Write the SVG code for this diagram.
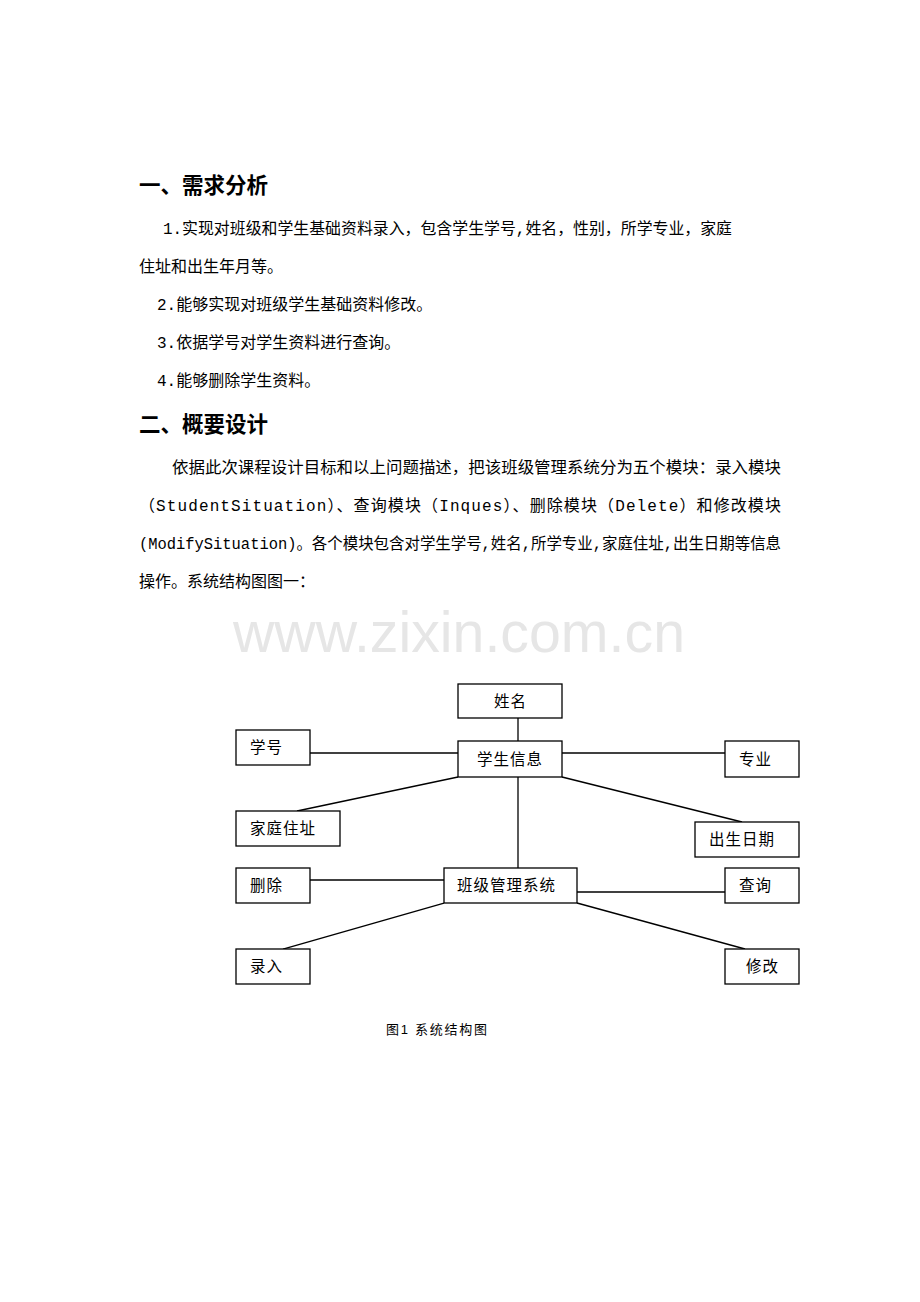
<svg xmlns="http://www.w3.org/2000/svg" width="920" height="1302" viewBox="0 0 920 1302">
<style>
.h{font-family:"Noto Sans CJK SC","Liberation Sans",sans-serif;font-size:21.5px;font-weight:bold;fill:#000}
.b{font-family:"Liberation Mono","Noto Sans CJK SC",monospace;font-size:16px;fill:#000}
.n{fill:#fff;stroke:#000;stroke-width:1.3}
.t{font-family:"Noto Sans CJK SC","Liberation Sans",sans-serif;font-size:15.5px;fill:#000;letter-spacing:1px}
.c{stroke:#000;stroke-width:1.3;fill:none}
.cap{font-family:"Liberation Sans","Noto Sans CJK SC",sans-serif;font-size:13px;fill:#000}
</style>
<rect width="920" height="1302" fill="#fff"/>
<text class="h" x="139" y="193">一、需求分析</text>
<text class="b" x="163" y="234" textLength="569" lengthAdjust="spacingAndGlyphs">1.实现对班级和学生基础资料录入，包含学生学号,姓名，性别，所学专业，家庭</text>
<text class="b" x="139" y="272">住址和出生年月等。</text>
<text class="b" x="157" y="310">2.能够实现对班级学生基础资料修改。</text>
<text class="b" x="157" y="348">3.依据学号对学生资料进行查询。</text>
<text class="b" x="157" y="386">4.能够删除学生资料。</text>
<text class="h" x="139" y="432">二、概要设计</text>
<text class="b" x="172" y="473" textLength="609" lengthAdjust="spacingAndGlyphs">依据此次课程设计目标和以上问题描述，把该班级管理系统分为五个模块：录入模块</text>
<text class="b" x="139" y="511" textLength="642" lengthAdjust="spacing">（StudentSituation）、查询模块（Inques）、删除模块（Delete）和修改模块</text>
<text class="b" x="139" y="549" textLength="642" lengthAdjust="spacingAndGlyphs">(ModifySituation)。各个模块包含对学生学号,姓名,所学专业,家庭住址,出生日期等信息</text>
<text class="b" x="139" y="587">操作。系统结构图图一：</text>
<text x="233" y="652" font-family="Liberation Sans,sans-serif" font-size="57" fill="#e6e6e6" textLength="452" lengthAdjust="spacingAndGlyphs">www.zixin.com.cn</text>
<g id="connectors">
<line class="c" x1="518" y1="718" x2="518" y2="741"/>
<line class="c" x1="310" y1="753" x2="458" y2="753"/>
<line class="c" x1="562" y1="753" x2="725" y2="753"/>
<line class="c" x1="458" y1="777" x2="297" y2="811"/>
<line class="c" x1="562" y1="777" x2="742" y2="822"/>
<line class="c" x1="518" y1="777" x2="518" y2="868"/>
<line class="c" x1="310" y1="880" x2="444" y2="880"/>
<line class="c" x1="577" y1="892" x2="725" y2="892"/>
<line class="c" x1="444" y1="903" x2="283" y2="949"/>
<line class="c" x1="577" y1="903" x2="745" y2="949"/>
</g>
<g id="n-xingming"><rect class="n" x="458" y="684" width="104" height="34"/><text class="t" x="494" y="707">姓名</text></g>
<g id="n-xuehao"><rect class="n" x="236" y="730" width="74" height="35"/><text class="t" x="250" y="753">学号</text></g>
<g id="n-xueshengxinxi"><rect class="n" x="458" y="741" width="104" height="36"/><text class="t" x="477" y="765">学生信息</text></g>
<g id="n-zhuanye"><rect class="n" x="725" y="741" width="74" height="36"/><text class="t" x="739" y="765">专业</text></g>
<g id="n-jiatingzhuzhi"><rect class="n" x="236" y="811" width="104" height="35"/><text class="t" x="250" y="834">家庭住址</text></g>
<g id="n-chushengriqi"><rect class="n" x="695" y="822" width="104" height="35"/><text class="t" x="709" y="845">出生日期</text></g>
<g id="n-shanchu"><rect class="n" x="236" y="868" width="74" height="35"/><text class="t" x="250" y="891">删除</text></g>
<g id="n-banji"><rect class="n" x="444" y="868" width="133" height="35"/><text class="t" x="457" y="891">班级管理系统</text></g>
<g id="n-chaxun"><rect class="n" x="725" y="868" width="74" height="35"/><text class="t" x="739" y="891">查询</text></g>
<g id="n-luru"><rect class="n" x="236" y="949" width="74" height="35"/><text class="t" x="250" y="972">录入</text></g>
<g id="n-xiugai"><rect class="n" x="725" y="949" width="74" height="35"/><text class="t" x="746" y="972">修改</text></g>
<text class="cap" x="386" y="1034" textLength="101" lengthAdjust="spacing">图1 系统结构图</text>
</svg>
